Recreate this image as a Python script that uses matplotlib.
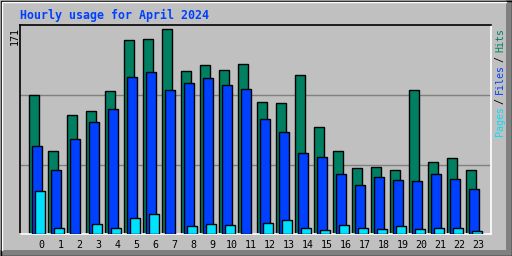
import matplotlib
matplotlib.use('Agg')
import matplotlib.pyplot as plt
from matplotlib.patches import Rectangle, Polygon

# dati
ore = list(range(24))
hits = [116, 69, 99, 103, 119, 162, 163, 171, 136, 141, 137, 142,
        110, 109, 133, 89, 69, 55, 56, 53, 120, 60, 63, 53]
files = [73, 53, 79, 93, 104, 131, 135, 120, 126, 130, 124, 121,
         96, 85, 67, 64, 50, 41, 47, 45, 44, 50, 46, 37]
pages = [36, 5, 0, 8, 5, 13, 16, 0, 6, 8, 7, 0,
         9, 11, 5, 3, 7, 5, 4, 6, 4, 5, 5, 2]
titolo = "Hourly usage for April 2024"
massimo = "171"

W, H = 512, 256
GRIGIO = '#c0c0c0'
VERDE = '#008060'
BLU = '#0040ff'
CIANO = '#00e0ff'

fig = plt.figure(figsize=(W / 100, H / 100), dpi=100, facecolor=GRIGIO)

# cornice esterna in pixel
bg = fig.add_axes([0, 0, 1, 1])
bg.set_xlim(0, W)
bg.set_ylim(H, 0)
bg.axis('off')
bg.add_patch(Polygon([[W, 0], [W, H], [0, H], [0, H - 6], [W - 6, H - 6], [W - 6, 0]],
                     closed=True, facecolor='#808080', edgecolor='none'))
bg.plot([1.5, 1.5, W - 6], [H - 6, 1.5, 1.5], color='white', lw=1.0)
bg.add_patch(Rectangle((0.5, 0.5), W - 1, H - 1, facecolor='none', edgecolor='black', lw=1.0))

# area del grafico
left, right, top, bottom = 20.3, 491, 25, 233.5
ax = fig.add_axes([left / W, 1 - bottom / H, (right - left) / W, (bottom - top) / H])
ax.set_facecolor(GRIGIO)

larg = 10 / 19
off_h, off_f, off_p = -12 / 19, -9.3 / 19, -6.3 / 19

for y in [57, 116]:
    ax.axhline(y, color='#808080', lw=1.0, zorder=1)

ax.bar([h + off_h for h in ore], hits, width=larg, align='edge', color=VERDE,
       edgecolor='black', linewidth=1.0, zorder=2)
ax.bar([h + off_f for h in ore], files, width=larg, align='edge', color=BLU,
       edgecolor='black', linewidth=1.0, zorder=3)
p = [(h, v) for h, v in zip(ore, pages) if v > 0]
ax.bar([h + off_p for h, v in p], [v for h, v in p], width=larg, align='edge', color=CIANO,
       edgecolor='black', linewidth=1.0, zorder=4)

ax.set_xlim(-(41.3 - left) / 19, (right - 41.3) / 19)
ax.set_ylim(0, 171 * (bottom - top) / (bottom - 29.3))

ax.set_xticks(ore)
ax.set_xticklabels([str(h) for h in ore], family='DejaVu Sans Mono', fontsize=7.2)
ax.tick_params(axis='x', length=0, pad=5)
ax.set_yticks([])

for lato in ['top', 'left']:
    ax.spines[lato].set_color('black')
    ax.spines[lato].set_linewidth(1.2)
for lato in ['right', 'bottom']:
    ax.spines[lato].set_color('white')
    ax.spines[lato].set_linewidth(1.2)

# testi
fig.text(20 / W, 1 - 15.5 / H, titolo, color=BLU, family='DejaVu Sans Mono',
         weight='bold', fontsize=8.4, ha='left', va='center')
fig.text(15 / W, 1 - 36 / H, massimo, rotation=90, family='DejaVu Sans Mono',
         fontsize=7.2, ha='center', va='center')

leg = [("Hits", VERDE, 40.5), ("/", 'black', 59), ("Files", BLU, 79),
       ("/", 'black', 101), ("Pages", CIANO, 121)]
for testo, colore, yc in leg:
    fig.text(500 / W, 1 - yc / H, testo, rotation=90, color=colore,
             family='DejaVu Sans Mono', fontsize=7.2, ha='center', va='center')

fig.savefig('out.png', dpi=100, facecolor=GRIGIO)
